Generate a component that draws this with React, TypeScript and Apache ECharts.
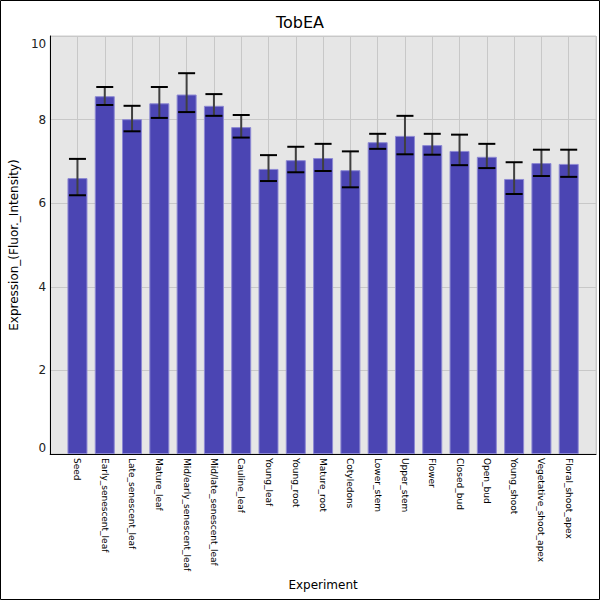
import React, { useEffect, useRef } from "react";
import * as echarts from "echarts";

const categories = [
  "Seed",
  "Early_senescent_leaf",
  "Late_senescent_leaf",
  "Mature_leaf",
  "Mid/early_senescent_leaf",
  "Mid/late_senescent_leaf",
  "Cauline_leaf",
  "Young_leaf",
  "Young_root",
  "Mature_root",
  "Cotyledons",
  "Lower_stem",
  "Upper_stem",
  "Flower",
  "Closed_bud",
  "Open_bud",
  "Young_shoot",
  "Vegetative_shoot_apex",
  "Floral_shoot_apex",
];

const values = [6.6, 8.56, 8.01, 8.39, 8.6, 8.33, 7.82, 6.82, 7.03, 7.08, 6.79, 7.46, 7.61, 7.39, 7.25, 7.11, 6.58, 6.96, 6.94];
const errHigh = [7.06, 8.78, 8.33, 8.78, 9.11, 8.61, 8.11, 7.15, 7.35, 7.42, 7.24, 7.66, 8.09, 7.66, 7.64, 7.42, 6.98, 7.28, 7.28];
const errLow = [6.19, 8.35, 7.72, 8.04, 8.18, 8.09, 7.57, 6.53, 6.74, 6.77, 6.38, 7.3, 7.17, 7.16, 6.91, 6.84, 6.22, 6.65, 6.63];

const yTicks = [0, 2, 4, 6, 8, 10];

export default function App() {
  const ref = useRef<HTMLDivElement>(null);
  useEffect(() => {
    if (!ref.current) return;
    const chart = echarts.init(ref.current, null, { renderer: "svg" });
    const barData = values.map((v, i) => [i, v]);
    const errData = values.map((_, i) => [i, errLow[i], errHigh[i]]);
    chart.setOption({
      animation: false,
      backgroundColor: "#ffffff",
      textStyle: { fontFamily: "DejaVu Sans" },
      title: {
        text: "TobEA",
        left: "center",
        top: 9,
        textStyle: { fontSize: 16, fontWeight: "normal", color: "#000", fontFamily: "DejaVu Sans" },
      },
      graphic: [
        {
          type: "rect",
          silent: true,
          z: 100,
          shape: { x: 0.5, y: 0.5, width: 599, height: 599 },
          style: { fill: "none", stroke: "#000", lineWidth: 1 },
        },
      ],
      grid: {
        left: 50,
        top: 36,
        right: 4,
        bottom: 146,
        show: true,
        backgroundColor: "#e6e6e6",
        borderColor: "#cccccc",
        borderWidth: 1,
      },
      xAxis: {
        type: "value",
        min: -1,
        max: 19,
        interval: 1,
        name: "Experiment",
        nameLocation: "middle",
        nameGap: 124,
        nameTextStyle: { fontSize: 12, color: "#000", fontFamily: "DejaVu Sans" },
        axisLine: { show: true, onZero: false, lineStyle: { color: "#000", width: 1 } },
        axisTick: { show: false },
        splitLine: { show: true, lineStyle: { color: "#c8c8c8", width: 1 } },
        axisLabel: {
          rotate: -90,
          fontSize: 9,
          color: "#000",
          margin: 4,
          showMinLabel: true,
          showMaxLabel: true,
          formatter: (v: number) => (categories[v] !== undefined ? categories[v] : ""),
          fontFamily: "DejaVu Sans",
        },
      },
      yAxis: {
        type: "value",
        min: 0,
        max: 10,
        interval: 2,
        name: "Expression_(Fluor._Intensity)",
        nameLocation: "middle",
        nameGap: 26,
        nameTextStyle: { fontSize: 12, color: "#000", fontFamily: "DejaVu Sans" },
        axisLine: { show: true, onZero: false, lineStyle: { color: "#000", width: 1 } },
        axisTick: { show: false },
        splitLine: { show: true, lineStyle: { color: "#c8c8c8", width: 1 } },
        axisLabel: {
          fontSize: 12,
          color: "#222",
          margin: 4,
          fontFamily: "DejaVu Sans",
          formatter: (v: number) => {
            if (v === yTicks[yTicks.length - 1]) return "{t|" + v + "}";
            if (v === yTicks[0]) return "{b|" + v + "}";
            return String(v);
          },
          rich: {
            t: { padding: [16, 0, 0, 0], fontSize: 12, color: "#222", fontFamily: "DejaVu Sans" },
            b: { padding: [0, 0, 12, 0], fontSize: 12, color: "#222", fontFamily: "DejaVu Sans" },
          },
        },
      },
      series: [
        {
          type: "bar",
          data: barData,
          barWidth: 20,
          itemStyle: { color: "#4b45b3", borderColor: "#8d89d3", borderWidth: 1 },
        },
        {
          type: "custom",
          data: errData,
          z: 10,
          renderItem: (params: any, api: any) => {
            const x = api.value(0);
            const lo = api.coord([x, api.value(1)]);
            const hi = api.coord([x, api.value(2)]);
            const hw = 8.5;
            return {
              type: "group",
              children: [
                {
                  type: "line",
                  shape: { x1: hi[0], y1: hi[1], x2: lo[0], y2: lo[1] },
                  style: { stroke: "#404040", lineWidth: 2 },
                },
                {
                  type: "line",
                  shape: { x1: hi[0] - hw, y1: hi[1], x2: hi[0] + hw, y2: hi[1] },
                  style: { stroke: "#000", lineWidth: 2 },
                },
                {
                  type: "line",
                  shape: { x1: lo[0] - hw, y1: lo[1], x2: lo[0] + hw, y2: lo[1] },
                  style: { stroke: "#000", lineWidth: 2 },
                },
              ],
            };
          },
        },
      ],
    });
    return () => chart.dispose();
  }, []);
  return <div ref={ref} style={{ position: "fixed", left: 0, top: 0, width: 600, height: 600 }} />;
}
